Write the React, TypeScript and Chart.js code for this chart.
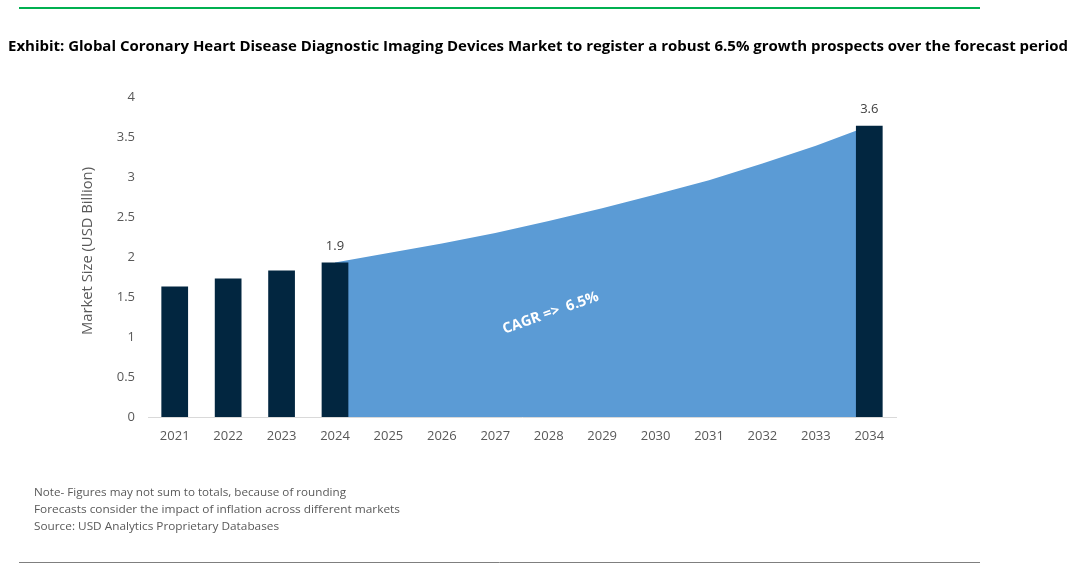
import React, { useEffect, useRef } from "react";
import { Chart, registerables } from "chart.js";

Chart.register(...registerables);

const categories = ["2021", "2022", "2023", "2024", "2025", "2026", "2027", "2028", "2029", "2030", "2031", "2032", "2033", "2034"];
const barValues = [1.63, 1.73, 1.83, 1.93, null, null, null, null, null, null, null, null, null, 3.64];
const areaValues = [null, null, null, 1.93, 2.05, 2.17, 2.3, 2.45, 2.61, 2.78, 2.96, 3.17, 3.39, 3.64];
const barLabels = ["", "", "", "1.9", "", "", "", "", "", "", "", "", "", "3.6"];
const yMin = 0;
const yMax = 4;
const yStep = 0.5;

const titleText = "Exhibit: Global Coronary Heart Disease Diagnostic Imaging Devices Market to register a robust 6.5% growth prospects over the forecast period";
const yAxisTitle = "Market Size (USD Billion)";
const cagrText = "CAGR =>  6.5%";
const cagrCategory = "2028";
const cagrValue = 1.3;
const notes = [
  "Note- Figures may not sum to totals, because of rounding",
  "Forecasts consider the impact of inflation across different markets",
  "Source: USD Analytics Proprietary Databases",
];

const FONT = "'Open Sans', 'Liberation Sans', sans-serif";

function fitText(ctx: CanvasRenderingContext2D, text: string, x: number, y: number, width: number) {
  const w = ctx.measureText(text).width;
  ctx.save();
  ctx.translate(x, y);
  ctx.scale(width / w, 1);
  ctx.fillText(text, 0, 0);
  ctx.restore();
}

const decorPlugin = {
  id: "decor",
  afterDraw(chart: any) {
    const ctx: CanvasRenderingContext2D = chart.ctx;
    ctx.save();
    // top green rule
    ctx.strokeStyle = "#00b050";
    ctx.lineWidth = 2;
    ctx.beginPath();
    ctx.moveTo(19, 8);
    ctx.lineTo(980, 8);
    ctx.stroke();
    // bottom gray rule
    ctx.strokeStyle = "#7f7f7f";
    ctx.lineWidth = 1;
    ctx.beginPath();
    ctx.moveTo(19, 562.5);
    ctx.lineTo(980, 562.5);
    ctx.stroke();
    // title
    ctx.fillStyle = "#000000";
    ctx.font = `bold 15px ${FONT}`;
    ctx.textBaseline = "middle";
    ctx.textAlign = "left";
    fitText(ctx, titleText, 8, 47, 1060);
    // notes
    ctx.fillStyle = "#595959";
    ctx.font = `11px ${FONT}`;
    const widths = [312, 366, 245];
    notes.forEach((n, i) => fitText(ctx, n, 34, 493 + i * 17, widths[i]));
    // y axis title
    ctx.save();
    ctx.translate(88, 251);
    ctx.rotate(-Math.PI / 2);
    ctx.font = `15px ${FONT}`;
    ctx.fillStyle = "#595959";
    ctx.textAlign = "left";
    ctx.textBaseline = "middle";
    fitText(ctx, yAxisTitle, -84, 0, 168);
    ctx.restore();
    ctx.restore();
  },
  afterDatasetsDraw(chart: any) {
    const ctx: CanvasRenderingContext2D = chart.ctx;
    const meta = chart.getDatasetMeta(0);
    ctx.save();
    ctx.fillStyle = "#404040";
    ctx.font = `13px ${FONT}`;
    ctx.textAlign = "center";
    ctx.textBaseline = "alphabetic";
    meta.data.forEach((el: any, i: number) => {
      if (barLabels[i]) ctx.fillText(barLabels[i], el.x, el.y - 13);
    });
    // CAGR annotation
    const xs = chart.scales.x;
    const ys = chart.scales.y;
    const cx = xs.getPixelForValue(categories.indexOf(cagrCategory));
    const cy = ys.getPixelForValue(cagrValue);
    ctx.translate(cx + 2, cy);
    ctx.rotate(-0.34);
    ctx.fillStyle = "#ffffff";
    ctx.font = `bold 14.5px ${FONT}`;
    ctx.textAlign = "center";
    ctx.textBaseline = "middle";
    ctx.fillText(cagrText, 0, 0);
    ctx.restore();
  },
};

export default function App() {
  const ref = useRef<HTMLCanvasElement>(null);
  useEffect(() => {
    if (!ref.current) return;
    const chart = new Chart(ref.current, {
      type: "bar",
      data: {
        labels: categories,
        datasets: [
          {
            type: "bar",
            data: barValues as any,
            backgroundColor: "#022640",
            barPercentage: 0.5,
            categoryPercentage: 1,
            order: 0,
          },
          {
            type: "line",
            data: areaValues as any,
            backgroundColor: "#5b9bd5",
            borderWidth: 0,
            borderColor: "#5b9bd5",
            pointRadius: 0,
            fill: "origin",
            tension: 0,
            order: 1,
          } as any,
        ],
      },
      options: {
        responsive: false,
        animation: false,
        events: [],
        layout: { padding: { left: 88, right: 176, top: 97, bottom: 140 } },
        plugins: { legend: { display: false }, tooltip: { enabled: false }, title: { display: false } },
        scales: {
          x: {
            grid: { display: false, drawTicks: false },
            border: { display: true, color: "#d9d9d9", width: 1 },
            ticks: { color: "#595959", font: { family: FONT, size: 13 }, padding: 11, maxRotation: 0, autoSkip: false },
            afterFit: (s: any) => { s.height = 30; },
          },
          y: {
            min: yMin,
            max: yMax,
            grid: { display: false, drawTicks: false },
            border: { display: false },
            ticks: {
              stepSize: yStep,
              color: "#595959",
              font: { family: FONT, size: 13 },
              padding: 13,
              callback: (v: any) => String(Number(v)),
            },
            afterFit: (s: any) => { s.width = 60; },
          },
        },
      },
      plugins: [decorPlugin],
    });
    return () => chart.destroy();
  }, []);
  return (
    <div style={{ position: "absolute", left: 0, top: 0, width: 1072, height: 587, background: "#fff" }}>
      <canvas ref={ref} width={1072} height={587} style={{ display: "block" }} />
    </div>
  );
}
